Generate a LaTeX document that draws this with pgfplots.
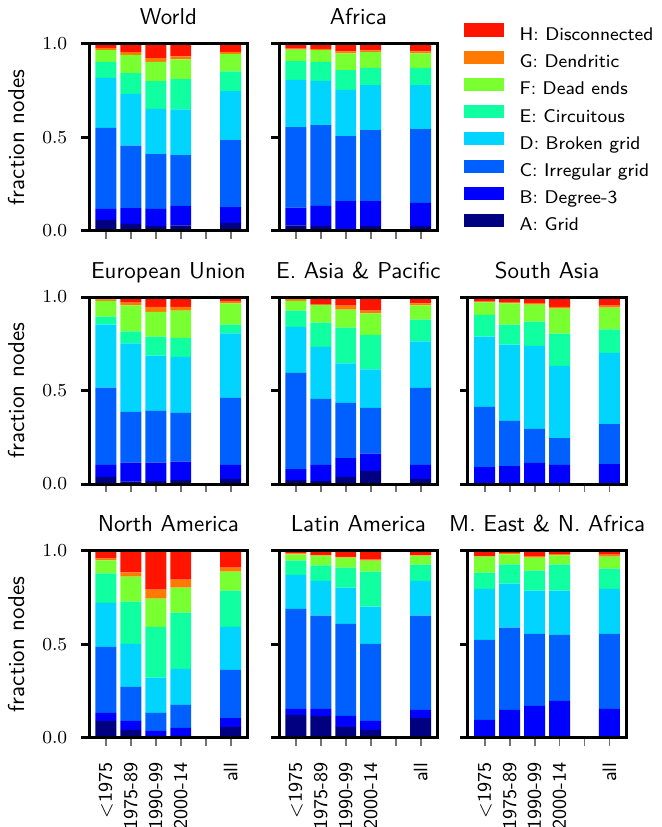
\documentclass[border=0pt]{standalone}
\usepackage{fontspec}
\usepackage{pgfplots}
\pgfplotsset{compat=1.18}
\usepackage{pgfplotstable}

% jet-like class colours
\definecolor{cA}{RGB}{0,0,128}
\definecolor{cB}{RGB}{0,0,255}
\definecolor{cC}{RGB}{0,96,255}
\definecolor{cD}{RGB}{0,212,255}
\definecolor{cE}{RGB}{16,255,160}
\definecolor{cF}{RGB}{122,255,48}
\definecolor{cG}{RGB}{255,122,0}
\definecolor{cH}{RGB}{255,20,0}

% fractions per class (x: 0..3 periods, 5 = all)
\pgfplotstableread{
x A B C D E F G H
0 .057 .059 .434 .267 .085 .064 .011 .023
1 .036 .085 .333 .277 .111 .098 .014 .046
2 .025 .091 .293 .242 .148 .103 .021 .077
3 .028 .104 .272 .244 .162 .106 .016 .068
5 .041 .085 .358 .262 .106 .093 .011 .044
}\world
\pgfplotstableread{
x A B C D E F G H
0 .028 .095 .430 .253 .100 .062 .005 .027
1 .025 .108 .431 .237 .101 .064 .006 .028
2 .007 .151 .347 .248 .106 .089 .011 .041
3 .025 .133 .379 .241 .092 .084 .010 .036
5 .025 .123 .395 .235 .092 .078 .011 .041
}\africa
\pgfplotstableread{
x A B C D E F G H
0 .038 .064 .414 .336 .043 .085 .008 .012
1 .013 .101 .272 .366 .064 .139 .015 .030
2 .016 .098 .277 .295 .102 .133 .027 .052
3 .021 .099 .260 .300 .102 .145 .021 .052
5 .027 .075 .359 .344 .047 .114 .009 .025
}\eu
\pgfplotstableread{
x A B C D E F G H
0 .021 .059 .515 .246 .086 .053 .009 .011
1 .016 .086 .353 .279 .129 .094 .003 .040
2 .038 .101 .295 .211 .191 .096 .022 .046
3 .070 .093 .244 .206 .185 .115 .014 .073
5 .027 .075 .412 .249 .116 .076 .011 .034
}\easia
\pgfplotstableread{
x A B C D E F G H
0 0 .091 .322 .375 .117 .066 .004 .025
1 0 .096 .242 .407 .107 .114 .004 .030
2 0 .113 .182 .444 .129 .091 .009 .032
3 0 .102 .144 .386 .172 .134 .010 .052
5 0 .107 .214 .381 .125 .116 .011 .046
}\sasia
\pgfplotstableread{
x A B C D E F G H
0 .089 .043 .354 .235 .158 .069 .011 .041
1 .041 .048 .182 .231 .225 .134 .023 .116
2 .009 .027 .096 .189 .272 .150 .048 .209
3 .009 .043 .123 .193 .300 .134 .043 .155
5 .057 .048 .258 .230 .193 .102 .021 .091
}\namerica
\pgfplotstableread{
x A B C D E F G H
0 .121 .033 .535 .182 .075 .034 .006 .014
1 .116 .038 .498 .187 .082 .052 .002 .025
2 .057 .059 .493 .193 .107 .054 .004 .033
3 .041 .048 .413 .198 .188 .058 .006 .048
5 .105 .043 .504 .187 .086 .048 .002 .025
}\lamerica
\pgfplotstableread{
x A B C D E F G H
0 0 .095 .428 .273 .086 .086 .003 .029
1 0 .148 .440 .236 .102 .054 .007 .013
2 0 .170 .385 .231 .107 .070 .008 .029
3 0 .196 .354 .236 .139 .050 .007 .018
5 0 .154 .401 .241 .108 .064 .011 .021
}\mena

\newcommand{\stack}[1]{%
  \addplot[fill=cA] table[x=x,y=A]{#1};
  \addplot[fill=cB] table[x=x,y=B]{#1};
  \addplot[fill=cC] table[x=x,y=C]{#1};
  \addplot[fill=cD] table[x=x,y=D]{#1};
  \addplot[fill=cE] table[x=x,y=E]{#1};
  \addplot[fill=cF] table[x=x,y=F]{#1};
  \addplot[fill=cG] table[x=x,y=G]{#1};
  \addplot[fill=cH] table[x=x,y=H]{#1};
}

\pgfplotsset{
  panel/.style={
    scale only axis, width=69pt, height=81.4pt, anchor=south west,
    ybar stacked, bar width=0.84,
    xmin=-0.67, xmax=5.68, ymin=0, ymax=1,
    xtick={0,1,2,3,4,5}, ytick={0,0.5,1},
    xticklabels={}, yticklabels={},
    tick pos=left, tick align=outside, major tick length=3.5pt,
    axis line style={line width=1.3pt},
    y tick style={line width=1.3pt, black},
    x tick style={line width=0.8pt, black!55},
    axis on top,
    title style={font=\sffamily\fontsize{10}{12}\selectfont,
      at={(0.5,1)}, anchor=base, yshift=2.2pt},
    ylabel style={font=\sffamily\fontsize{10}{12}\selectfont,
      at={(axis description cs:0,0.5)}, anchor=center, yshift=31.8pt},
    y tick label style={font=\fontsize{8.5}{10}\selectfont, xshift=-2.5pt},
    x tick label style={font=\sffamily\fontsize{8.5}{10}\selectfont,
      yshift=-3.9pt, rotate=90, anchor=east},
    every axis plot/.append style={draw=none},
    legend image code/.code={\fill[#1] (0pt,-0.35pt) rectangle (17.4pt,5.35pt);},
  },
  leftcol/.style={ylabel={fraction nodes}, yticklabels={$0.0$,$0.5$,$1.0$}},
  bottomrow/.style={xticklabels={<1975,1975-89,1990-99,2000-14,,all}},
}

\begin{document}
\begin{tikzpicture}
\useasboundingbox (0,0) rectangle (288pt,360pt);

\begin{axis}[panel, leftcol, at={(38.8pt,259.6pt)}, title={World}]
\stack{\world}
\end{axis}

\begin{axis}[panel, at={(121.5pt,259.6pt)}, title={Africa},
  legend entries={A: Grid,B: Degree-3,C: Irregular grid,D: Broken grid,
    E: Circuitous,F: Dead ends,G: Dendritic,H: Disconnected},
  reverse legend, legend cell align=left,
  legend style={at={(1.164,1.108)}, anchor=north west, draw=none, fill=none,
    inner sep=0pt, outer sep=0pt, row sep=2.5pt, column sep=7pt,
    font=\sffamily\fontsize{8}{9.6}\selectfont,
    nodes={inner sep=0pt, text height=6pt, text depth=2pt}}]
\stack{\africa}
\end{axis}

\begin{axis}[panel, leftcol, at={(38.8pt,149.3pt)}, title={European Union}]
\stack{\eu}
\end{axis}

\begin{axis}[panel, at={(121.5pt,149.3pt)}, title={E. Asia \& Pacific}]
\stack{\easia}
\end{axis}

\begin{axis}[panel, at={(203.7pt,149.3pt)}, title={South Asia}]
\stack{\sasia}
\end{axis}

\begin{axis}[panel, leftcol, bottomrow, at={(38.8pt,38.9pt)}, title={North America}]
\stack{\namerica}
\end{axis}

\begin{axis}[panel, bottomrow, at={(121.5pt,38.9pt)}, title={Latin America}]
\stack{\lamerica}
\end{axis}

\begin{axis}[panel, bottomrow, at={(203.7pt,38.9pt)}, title={M. East \& N. Africa}]
\stack{\mena}
\end{axis}

\end{tikzpicture}
\end{document}
